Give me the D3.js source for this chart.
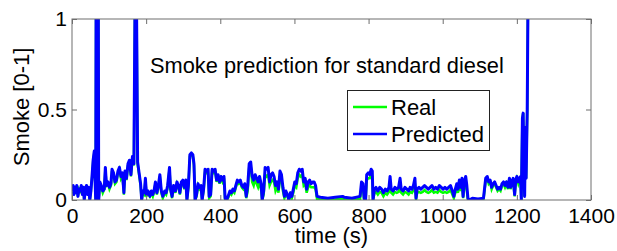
<!DOCTYPE html>
<html>
<head>
<meta charset="utf-8">
<script src="https://d3js.org/d3.v7.min.js"></script>
<style>
  body { margin: 0; background: #fff; }
  text { font-family: "Liberation Sans", Arial, sans-serif; }
</style>
</head>
<body>
<div id="chart"></div>
<script>
// data (time in s, smoke 0-1)
var time = [
  0,3,5,8,11,13,16,19,22,25,
  28,31,33,36,39,42,45,48,51,54,
  57,60,62,64,65,67,68,69,71,72,
  75,79,83,87,90,93,97,101,105,108,
  112,116,120,124,128,132,136,140,143,147,
  151,155,159,163,167,170,174,177,181,185,
  188,191,195,198,201,205,210,214,218,222,
  225,229,233,237,241,245,250,254,258,263,
  266,270,274,279,283,287,291,295,299,303,
  307,310,314,318,322,326,329,332,336,340,
  344,348,351,355,359,363,367,370,374,378,
  382,386,390,394,398,402,406,410,413,417,
  421,426,430,434,438,442,446,450,454,458,
  462,466,470,474,478,482,486,490,494,498,
  502,506,510,513,517,521,525,529,533,537,
  541,545,549,553,557,561,565,569,573,577,
  581,585,589,593,597,601,605,609,613,617,
  621,625,629,633,637,641,645,649,653,657,
  661,670,690,710,730,735,755,777,781,785,
  788,792,795,799,803,807,810,812,816,820,
  825,830,835,840,845,850,855,858,861,866,
  871,876,881,885,888,893,898,903,908,912,
  917,921,925,928,931,936,941,946,951,956,
  961,966,971,976,981,986,991,996,1001,1006,
  1011,1016,1021,1026,1030,1034,1038,1041,1045,1048,
  1052,1055,1058,1062,1065,1068,1072,1080,1095,1110,
  1116,1120,1124,1128,1132,1136,1140,1144,1148,1152,
  1156,1160,1164,1168,1172,1176,1180,1183,1186,1190,
  1194,1197,1200,1204,1207,1210,1212,1215,1217,1219,
  1221,1223,1225,1228,1230,1234
];

var predicted = [
  .05,.08,.03,.07,.04,.08,.02,.06,.05,.08,
  .03,.07,0,.06,.08,.03,.07,0,.05,.13,
  .22,.27,.12,0,1.1,1.1,.93,1.1,1.1,0,
  .1,.08,.05,.06,.18,.08,.1,.07,.09,.17,
  .15,.1,.11,.16,.18,.13,.15,.04,.16,.12,
  .2,.22,.14,.24,.2,1.1,1.1,.21,.15,.09,
  0,.05,.04,.12,.03,.05,.02,.05,.03,.06,
  .1,.04,.08,.14,.05,.02,.05,.04,.08,.18,
  .06,.02,.08,.05,.1,.08,.04,.1,.11,.07,
  .11,0,.08,.25,.26,.25,.2,0,.03,.09,
  .07,.08,0,.06,.17,.16,.17,.02,.03,.17,
  .16,.17,.11,.14,.1,.13,.11,.13,.01,0,
  .02,.05,.04,.06,.05,.08,.11,.1,.11,.08,
  .07,.09,.02,.08,.2,.21,.13,.11,.14,.12,
  .1,.13,.09,0,.05,.18,.17,.18,.1,.14,
  .15,.13,.08,.1,.06,.16,.14,.07,.02,.05,
  .03,0,.04,.02,.06,.1,.09,.15,.17,.16,
  .17,.1,.12,.06,.1,.11,.09,.1,.1,.08,
  .02,.015,.01,.015,.02,.015,.01,.02,.1,.09,
  .01,0,.14,.15,.14,.17,.16,0,.06,.07,
  .05,.07,.06,.04,.06,.05,.07,.13,.06,.05,
  .07,.06,.07,.12,.06,.05,.07,.06,.05,.07,
  .06,.08,.12,.01,.06,.07,.06,.07,.08,.07,
  .06,.07,.08,.06,.07,.06,.08,.07,.06,.07,
  .06,.07,.08,.05,.02,.06,.09,.06,.11,.07,
  .12,.02,.1,.13,.08,.01,0,.01,.005,.01,
  .12,.13,.1,.11,.07,.09,.1,.08,.06,.07,
  .06,.09,.1,.08,.1,.07,.12,.07,.1,.12,
  .03,.11,.13,.1,.12,.13,0,.45,.48,.2,
  .02,.4,.12,.5,1.1,1.1
];

var real = [
  .05,.07,.03,.06,.04,.07,.02,.06,.05,.07,
  .03,.06,0,.06,.07,.03,.06,0,.05,.12,
  .21,.26,.12,0,1.1,1.1,.93,1.1,1.1,0,
  .09,.07,.04,.06,.17,.08,.09,.06,.08,.16,
  .14,.09,.1,.15,.17,.12,.14,.03,.15,.11,
  .19,.21,.13,.23,.19,1.1,1.1,.2,.14,.08,
  0,.04,.03,.11,.02,.04,.02,.04,.02,.05,
  .09,.03,.07,.13,.04,.01,.04,.03,.07,.17,
  .05,.01,.07,.04,.09,.07,.03,.09,.1,.06,
  .1,0,.07,.24,.25,.24,.19,0,.02,.08,
  .06,.07,0,.05,.16,.15,.16,.01,.02,.16,
  .15,.16,.1,.13,.09,.12,.1,.12,0,0,
  .01,.04,.03,.05,.04,.07,.1,.09,.1,.07,
  .06,.08,.01,.05,.18,.19,.1,.08,.12,.09,
  .07,.1,.06,0,.03,.14,.13,.14,.08,.1,
  .11,.1,.05,.07,.04,.13,.11,.05,.01,.03,
  .02,0,.03,.01,.04,.08,.07,.12,.14,.13,
  .14,.08,.09,.04,.07,.08,.07,.07,.07,.06,
  .005,.003,0,.003,.008,.003,0,.005,.07,.06,
  0,0,.11,.12,.12,.14,.13,0,.04,.045,
  .03,.045,.04,.02,.04,.03,.045,.1,.04,.03,
  .045,.04,.045,.09,.04,.03,.045,.04,.03,.045,
  .04,.055,.09,0,.04,.045,.04,.045,.055,.045,
  .04,.045,.055,.04,.045,.04,.055,.045,.04,.045,
  .04,.045,.055,.03,.01,.04,.06,.04,.08,.05,
  .09,.01,.07,.1,.05,0,0,.003,0,.003,
  .11,.12,.09,.1,.06,.08,.09,.07,.05,.06,
  .05,.08,.09,.07,.09,.06,.11,.06,.09,.11,
  .02,.1,.12,.09,.11,.12,0,.45,.48,.2,
  .02,.4,.12,.5,1.1,1.1
];

var xTicks = [0, 200, 400, 600, 800, 1000, 1200, 1400];
var yTicks = [0, 0.5, 1];
var seriesNames = ["Real", "Predicted"];
var seriesColors = ["#00ff00", "#0000ff"];

var margin = {top: 19, right: 26, bottom: 51, left: 72},
    fullW = 617, fullH = 251,
    width = fullW - margin.left - margin.right,
    height = fullH - margin.top - margin.bottom;

var svg = d3.select("#chart").append("svg")
    .attr("width", fullW)
    .attr("height", fullH);

var g = svg.append("g")
    .attr("transform", "translate(" + margin.left + "," + margin.top + ")");

var x = d3.scaleLinear().domain([0, 1400]).range([0, width]);
var y = d3.scaleLinear().domain([0, 1]).range([height, 0]);

svg.append("defs").append("clipPath").attr("id", "plotclip")
  .append("rect").attr("x", 0).attr("y", 0).attr("width", width).attr("height", height);

// lines
var line = d3.line()
    .x(function(d) { return x(d[0]); })
    .y(function(d) { return y(d[1]); });

var realData = time.map(function(t, i) { return [t, real[i]]; });
var predData = time.map(function(t, i) { return [t, predicted[i]]; });

var plot = g.append("g").attr("clip-path", "url(#plotclip)");
plot.append("path").datum(realData)
    .attr("d", line)
    .attr("fill", "none")
    .attr("stroke", seriesColors[0])
    .attr("stroke-width", 2.5);
plot.append("path").datum(predData)
    .attr("d", line)
    .attr("fill", "none")
    .attr("stroke", seriesColors[1])
    .attr("stroke-width", 3)
    .attr("stroke-linejoin", "round");

// axes, matlab style ticks pointing inwards
var axisColor = "#6e6e6e";

var xAxis = g.append("g")
    .attr("transform", "translate(0," + height + ")")
    .call(d3.axisBottom(x).tickValues(xTicks).tickSize(-5).tickPadding(8).tickFormat(d3.format("d")));
var xTop = g.append("g")
    .call(d3.axisTop(x).tickValues(xTicks).tickSize(-5).tickFormat(""));
var yAxis = g.append("g")
    .call(d3.axisLeft(y).tickValues(yTicks).tickSize(-5).tickPadding(5).tickFormat(function(d) { return d; }));
var yRight = g.append("g")
    .attr("transform", "translate(" + width + ",0)")
    .call(d3.axisRight(y).tickValues(yTicks).tickSize(-5).tickFormat(""));

[xAxis, xTop, yAxis, yRight].forEach(function(a) {
  a.select(".domain").remove();
  a.selectAll(".tick line").attr("stroke", axisColor);
  a.selectAll(".tick text")
    .attr("fill", "#000")
    .style("font-size", "21px")
    .style("font-family", "'Liberation Sans', Arial, sans-serif");
});

g.append("rect")
    .attr("x", 0).attr("y", 0)
    .attr("width", width).attr("height", height)
    .attr("fill", "none")
    .attr("stroke", axisColor)
    .attr("stroke-width", 1);

// labels
g.append("text")
    .attr("x", 78).attr("y", 54)
    .style("font-size", "21.8px")
    .text("Smoke prediction for standard diesel");

svg.append("text")
    .attr("transform", "translate(29," + 107 + ") rotate(-90)")
    .attr("text-anchor", "middle")
    .style("font-size", "22px")
    .text("Smoke [0-1]");

svg.append("text")
    .attr("x", margin.left + width / 2)
    .attr("y", 243)
    .attr("text-anchor", "middle")
    .style("font-size", "22px")
    .text("time (s)");

// legend
var legend = svg.append("g").attr("transform", "translate(347,90)");
legend.append("rect")
    .attr("x", 0.5).attr("y", 0.5)
    .attr("width", 142).attr("height", 60)
    .attr("fill", "#fff")
    .attr("stroke", "#222")
    .attr("stroke-width", 1);

seriesNames.forEach(function(name, i) {
  var ly = 17 + i * 27;
  legend.append("line")
      .attr("x1", 6).attr("x2", 40)
      .attr("y1", ly).attr("y2", ly)
      .attr("stroke", seriesColors[i])
      .attr("stroke-width", 2.5);
  legend.append("text")
      .attr("x", 44).attr("y", ly + 7.5)
      .style("font-size", "22px")
      .text(name);
});
</script>
</body>
</html>
